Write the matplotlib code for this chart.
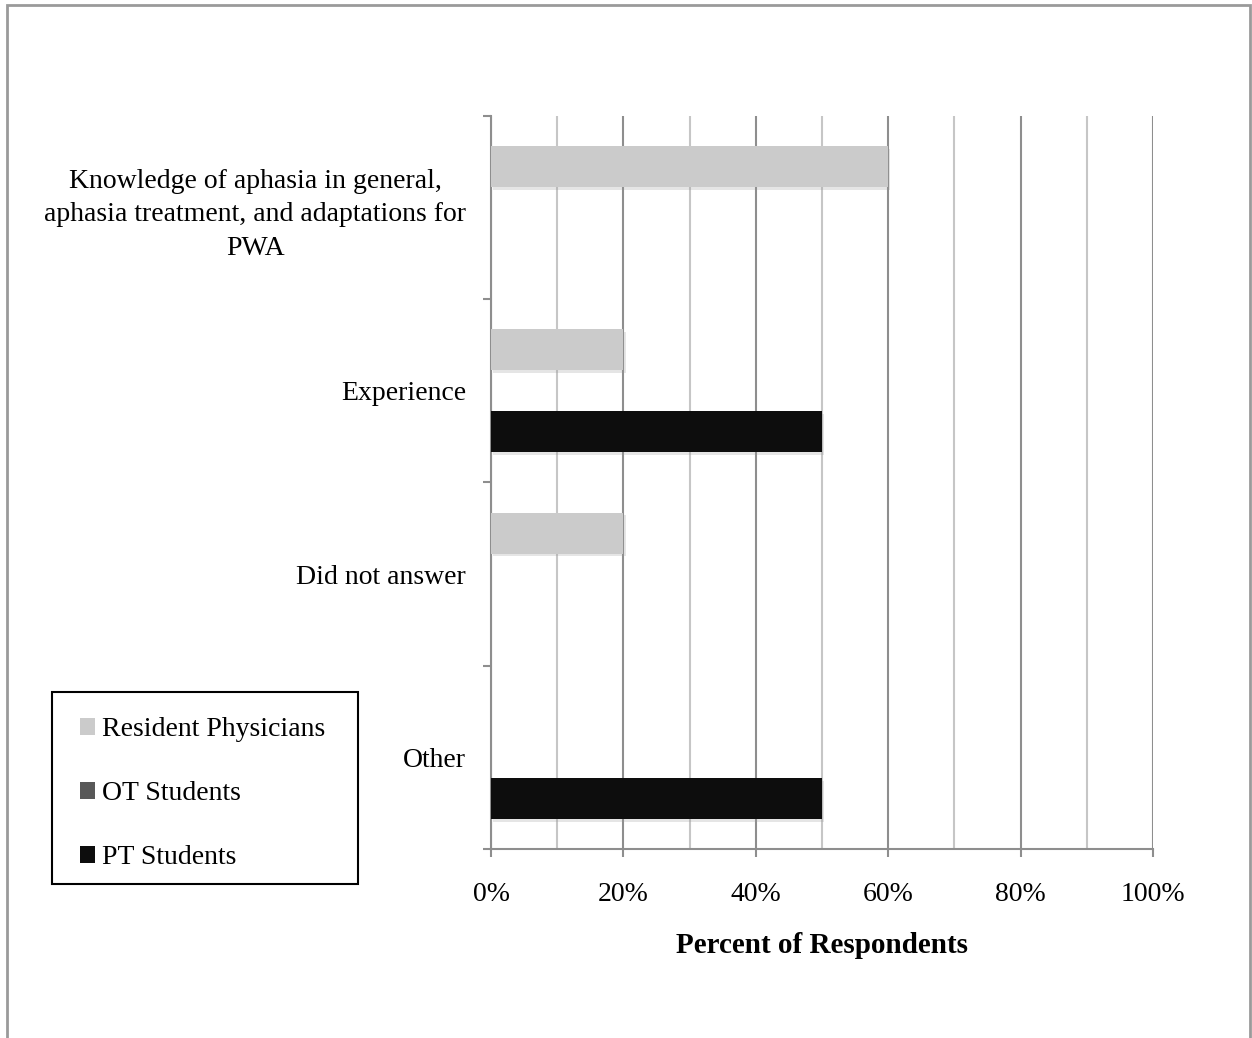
import numpy as np
import matplotlib.pyplot as plt
import matplotlib.patheffects as pe
from matplotlib.patches import Rectangle, Patch
from matplotlib.ticker import MultipleLocator, FuncFormatter

plt.rcParams['font.family'] = ['Liberation Serif', 'DejaVu Serif']

# Survey answers, percent of respondents per group
categories = ['Knowledge of aphasia in general,\naphasia treatment, and adaptations for\nPWA',
              'Experience', 'Did not answer', 'Other']
resident_physicians = [60, 20, 20, 0]
ot_students = [0, 0, 0, 0]
pt_students = [0, 50, 0, 50]

series = [('Resident Physicians', resident_physicians, '#cbcbcb'),
          ('OT Students', ot_students, '#585858'),
          ('PT Students', pt_students, '#0d0d0d')]

W, H = 1252, 1038
fig = plt.figure(figsize=(W / 100, H / 100), dpi=100)
ax = fig.add_axes([0.3922, 0.1821, 0.5288, 0.7062])

y = np.arange(len(categories))
bar_h = 0.224
shadow = [pe.SimplePatchShadow(offset=(1.5, -2), shadow_rgbFace='#999999', alpha=0.25), pe.Normal()]
for i, (name, vals, color) in enumerate(series):
    bars = ax.barh(y + (i - 1) * bar_h, vals, height=bar_h, color=color,
                   linewidth=0, zorder=3)
    for b in bars:
        if b.get_width() > 0:
            b.set_path_effects(shadow)

ax.set_xlim(0, 100)
ax.set_ylim(len(categories) - 0.5, -0.5)

# gridlines: light at 10%, darker at 20%
ax.xaxis.set_major_locator(MultipleLocator(20))
ax.xaxis.set_minor_locator(MultipleLocator(10))
ax.xaxis.set_major_formatter(FuncFormatter(lambda v, p: f'{v:.0f}%'))
ax.grid(axis='x', which='minor', color='#c6c6c6', linewidth=1.5, zorder=0)
ax.grid(axis='x', which='major', color='#8e8e8e', linewidth=1.5, zorder=1)
ax.tick_params(axis='x', which='minor', length=0)
ax.tick_params(axis='x', which='major', length=6, width=1.5, color='#8e8e8e',
               labelsize=20, pad=18)

# category ticks sit on band boundaries, labels at band centres
ax.set_yticks(np.arange(len(categories) + 1) - 0.5)
ax.set_yticklabels([])
ax.set_yticks(y, minor=True)
ax.set_yticklabels(categories, minor=True, multialignment='center', linespacing=1.45)
ax.tick_params(axis='y', which='major', length=6, width=1.5, color='#8e8e8e')
ax.tick_params(axis='y', which='minor', length=0, labelsize=20, pad=18)

for side in ['top', 'right']:
    ax.spines[side].set_visible(False)
for side in ['left', 'bottom']:
    ax.spines[side].set_color('#8e8e8e')
    ax.spines[side].set_linewidth(1.5)

ax.set_xlabel('Percent of Respondents', fontsize=21, fontweight='bold', labelpad=18)

# legend entries without frame, box drawn separately
handles = [Patch(facecolor=c, edgecolor='none', label=n) for n, _, c in series]
fig.legend(handles=handles, loc='upper left', bbox_to_anchor=(80 / W, 1 - 717 / H),
           fontsize=20, frameon=False, handlelength=0.55, handleheight=0.55,
           handletextpad=0.25, labelspacing=1.41, borderpad=0, borderaxespad=0)
fig.patches.append(Rectangle((52 / W, 1 - 884 / H), (358 - 52) / W, (884 - 692) / H,
                             transform=fig.transFigure, fill=False, edgecolor='black',
                             linewidth=1.5))

# outer chart frame
fig.patches.append(Rectangle((7 / W, -0.1), (1250 - 7) / W, 1.1 - 5 / H,
                             transform=fig.transFigure, fill=False, edgecolor='#9a9a9a',
                             linewidth=2, clip_on=False))

fig.savefig('out.png', dpi=100)
